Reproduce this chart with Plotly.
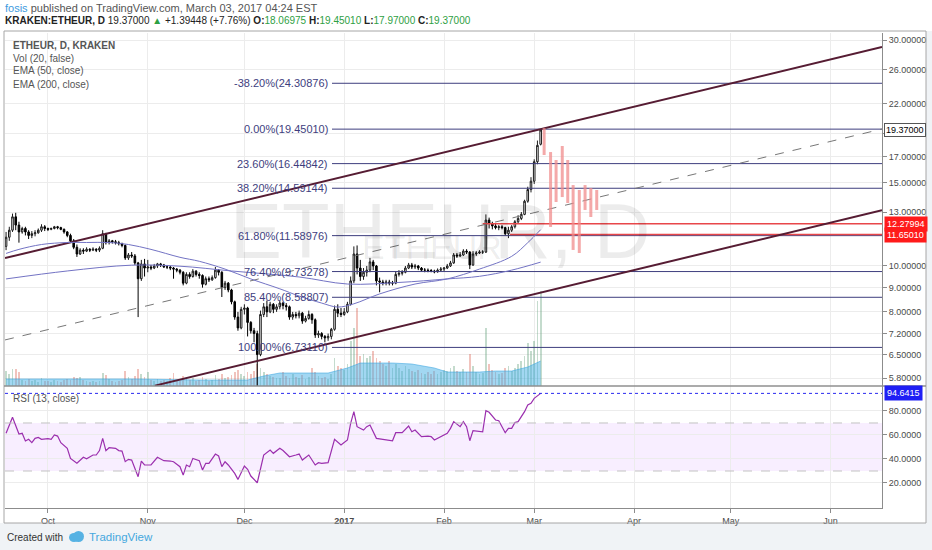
import math
import pandas as pd
import plotly.graph_objects as go

# ---------------- data (KRAKEN ETHEUR, daily) ----------------
start_day = "2016-09-18"

o_ = [11.0, 11.5, 11.9, 12.7, 12.2, 11.8, 12.0, 11.8, 11.6, 11.7,
      11.75, 11.9, 12.1, 12.0, 11.95, 12.0, 12.1, 12.05, 11.95, 11.8,
      11.6, 11.3, 10.95, 10.6, 10.8, 10.75, 10.85, 10.8, 10.85, 10.8,
      10.9, 11.7, 11.2, 11.3, 11.25, 11.2, 11.15, 11.05, 10.4, 10.55,
      10.5, 10.15, 9.4, 10.1, 9.9, 9.95, 9.9, 10.0, 10.1, 10.05,
      9.95, 9.95, 9.9, 9.85, 9.8, 9.7, 9.2, 9.6, 9.5, 9.75,
      9.6, 9.55, 9.15, 9.4, 9.35, 9.45, 9.8, 9.7, 9.0, 9.2,
      8.9, 8.4, 7.8, 7.4, 8.1, 8.15, 7.6, 7.3, 7.2, 6.5,
      7.9, 8.2, 8.0, 8.3, 8.1, 8.2, 8.35, 8.25, 8.2, 7.8,
      7.9, 7.85, 7.95, 7.65, 7.75, 7.9, 7.7, 7.15, 7.2, 7.1,
      7.05, 7.1, 7.35, 8.1, 7.95, 7.9, 8.0, 8.3, 9.3, 10.6,
      9.9, 9.5, 9.7, 9.8, 10.2, 10.0, 9.3, 9.25, 9.2, 9.25,
      9.2, 9.2, 9.6, 9.65, 9.7, 9.9, 10.05, 9.95, 10.0, 9.9,
      9.8, 9.8, 9.78, 9.76, 9.72, 9.8, 9.85, 9.9, 10.0, 10.15,
      10.55, 10.5, 10.55, 10.75, 10.7, 10.05, 10.6, 10.65, 10.7, 10.7,
      12.5, 12.3, 12.15, 12.05, 12.1, 12.05, 11.7, 11.9, 12.1, 12.4,
      12.6, 12.85, 13.7, 14.5, 15.1, 16.6, 18.06975]
h_ = [11.8, 12.1, 12.9, 12.95, 12.4, 12.1, 12.1, 11.9, 11.85, 11.9,
      12.0, 12.25, 12.2, 12.05, 12.05, 12.15, 12.15, 12.1, 12.0, 11.85,
      11.7, 11.4, 11.1, 10.9, 10.9, 10.95, 10.9, 10.95, 10.9, 11.0,
      11.9, 11.75, 11.4, 11.35, 11.35, 11.3, 11.2, 11.1, 10.65, 10.7,
      10.6, 10.2, 10.3, 10.35, 10.3, 10.05, 10.1, 10.15, 10.15, 10.1,
      10.05, 10.0, 9.95, 9.9, 9.85, 9.75, 9.7, 9.7, 9.85, 9.8,
      9.7, 9.6, 9.5, 9.5, 9.55, 9.95, 9.85, 9.75, 9.3, 9.25,
      8.95, 8.45, 8.0, 8.2, 8.3, 8.2, 7.65, 7.4, 7.3, 8.05,
      8.35, 8.45, 8.4, 8.35, 8.3, 8.45, 8.4, 8.35, 8.25, 8.0,
      8.0, 8.05, 8.0, 7.85, 8.05, 7.95, 7.75, 7.3, 7.25, 7.15,
      7.2, 7.4, 8.25, 8.3, 8.15, 8.15, 8.4, 9.5, 11.0, 11.05,
      10.3, 9.9, 10.0, 10.4, 10.3, 10.05, 9.45, 9.35, 9.35, 9.35,
      9.3, 9.75, 9.8, 9.8, 10.0, 10.15, 10.15, 10.1, 10.05, 9.95,
      9.9, 9.88, 9.85, 9.82, 9.88, 9.95, 9.95, 10.1, 10.25, 10.65,
      10.65, 10.7, 10.85, 10.85, 10.75, 10.75, 10.75, 10.8, 10.8, 12.85,
      12.65, 12.4, 12.3, 12.2, 12.2, 12.1, 12.1, 12.2, 12.5, 12.8,
      13.0, 13.8, 14.7, 15.4, 16.8, 18.4, 19.4501]
l_ = [10.8, 11.3, 11.8, 11.9, 11.2, 11.7, 11.6, 11.4, 11.45, 11.55,
      11.7, 11.8, 11.85, 11.85, 11.9, 11.95, 11.95, 11.9, 11.7, 11.5,
      11.2, 10.85, 10.45, 10.55, 10.6, 10.7, 10.7, 10.75, 10.7, 10.7,
      10.85, 11.1, 11.1, 11.15, 11.1, 11.05, 10.95, 10.3, 10.3, 10.4,
      10.05, 7.8, 9.3, 9.5, 9.7, 9.8, 9.85, 9.9, 9.95, 9.9,
      9.85, 9.8, 9.4, 9.7, 9.6, 9.1, 9.15, 9.4, 9.45, 9.5,
      9.4, 9.0, 9.1, 9.25, 9.3, 9.4, 9.55, 8.6, 8.9, 8.8,
      8.3, 7.7, 7.3, 7.35, 7.9, 7.1, 7.2, 6.9, 5.3, 6.45,
      7.8, 7.8, 7.95, 7.95, 8.0, 8.1, 8.1, 8.05, 7.7, 7.7,
      7.75, 7.75, 7.55, 7.6, 7.7, 7.55, 7.05, 7.05, 7.0, 6.9,
      6.95, 7.0, 7.3, 7.8, 7.8, 7.85, 7.95, 8.25, 9.2, 9.6,
      9.3, 9.35, 9.5, 9.7, 9.8, 9.1, 8.8, 9.1, 9.1, 9.1,
      9.1, 9.15, 9.5, 9.55, 9.65, 9.85, 9.85, 9.85, 9.8, 9.75,
      9.7, 9.7, 9.7, 9.65, 9.68, 9.75, 9.75, 9.85, 9.95, 10.1,
      10.4, 10.45, 10.5, 10.6, 9.85, 10.0, 10.5, 10.6, 10.6, 10.65,
      12.0, 11.95, 11.95, 11.9, 11.95, 11.6, 11.45, 11.8, 12.0, 12.3,
      12.5, 12.8, 13.6, 14.3, 14.9, 16.4, 17.97]
c_ = [11.5, 11.9, 12.7, 12.2, 11.8, 12.0, 11.8, 11.6, 11.7, 11.75,
      11.9, 12.1, 12.0, 11.95, 12.0, 12.1, 12.05, 11.95, 11.8, 11.6,
      11.3, 10.95, 10.6, 10.8, 10.75, 10.85, 10.8, 10.85, 10.8, 10.9,
      11.7, 11.2, 11.3, 11.25, 11.2, 11.15, 11.05, 10.4, 10.55, 10.5,
      10.15, 9.4, 10.1, 9.9, 9.95, 9.9, 10.0, 10.1, 10.05, 9.95,
      9.95, 9.9, 9.85, 9.8, 9.7, 9.2, 9.6, 9.5, 9.75, 9.6,
      9.55, 9.15, 9.4, 9.35, 9.45, 9.8, 9.7, 9.0, 9.2, 8.9,
      8.4, 7.8, 7.4, 8.1, 8.15, 7.6, 7.3, 7.2, 6.5, 7.9,
      8.2, 8.0, 8.3, 8.1, 8.2, 8.35, 8.25, 8.2, 7.8, 7.9,
      7.85, 7.95, 7.65, 7.75, 7.9, 7.7, 7.15, 7.2, 7.1, 7.05,
      7.1, 7.35, 8.1, 7.95, 7.9, 8.0, 8.3, 9.3, 10.6, 9.9,
      9.5, 9.7, 9.8, 10.2, 10.0, 9.3, 9.25, 9.2, 9.25, 9.2,
      9.2, 9.6, 9.65, 9.7, 9.9, 10.05, 9.95, 10.0, 9.9, 9.8,
      9.8, 9.78, 9.76, 9.72, 9.8, 9.85, 9.9, 10.0, 10.15, 10.55,
      10.5, 10.55, 10.75, 10.7, 10.05, 10.6, 10.65, 10.7, 10.7, 12.5,
      12.3, 12.15, 12.05, 12.1, 12.05, 11.7, 11.9, 12.1, 12.4, 12.6,
      12.85, 13.7, 14.5, 15.1, 16.6, 17.97552, 19.37]
vol = [15, 12, 17, 17, 14, 6, 5, 7, 5, 6,
       4, 8, 5, 5, 4, 6, 5, 4, 6, 7,
       6, 9, 8, 9, 6, 5, 4, 5, 4, 5,
       13, 11, 7, 5, 4, 5, 6, 15, 9, 7,
       10, 17, 12, 9, 14, 6, 5, 7, 5, 6,
       5, 8, 13, 6, 5, 10, 7, 6, 8, 5,
       6, 9, 7, 5, 6, 11, 7, 12, 8, 9,
       11, 14, 16, 12, 10, 14, 12, 15, 22, 18,
       14, 12, 10, 9, 8, 8, 14, 10, 8, 12,
       9, 8, 11, 7, 9, 18, 14, 10, 8, 9,
       7, 12, 28, 20, 18, 16, 22, 45, 58, 78,
       30, 32, 28, 30, 35, 28, 25, 22, 20, 25,
       18, 22, 18, 15, 20, 17, 15, 14, 16, 13,
       12, 14, 12, 15, 12, 14, 16, 15, 18, 20,
       15, 14, 17, 14, 32, 20, 14, 12, 13, 58,
       22, 16, 14, 12, 13, 18, 20, 15, 18, 22,
       25, 30, 43, 35, 45, 85, 95]

# volume moving average (20), sampled
vma_day = [0, 20, 40, 60, 75, 80, 85, 100, 106, 110, 120, 126, 133, 137, 147, 152, 157, 162, 166]
vma_val = [7, 7, 7, 6, 6, 10, 13, 13, 18, 23, 23, 22, 18, 14, 14, 15, 15, 19, 25]

# EMA lines, sampled
ema50_day = [0, 4, 11, 19, 25, 32, 38, 45, 54, 60, 68, 76, 85, 91, 98, 103, 108, 116, 127, 137, 147, 157, 162, 166]
ema50_val = [10.63, 10.84, 11.10, 11.21, 11.21, 11.21, 11.10, 10.84, 10.43, 10.23, 9.85, 9.39,
             8.95, 8.64, 8.35, 8.19, 8.32, 8.73, 9.16, 9.39, 9.85, 10.48, 11.2, 11.93]
ema200_day = [0, 19, 39, 54, 70, 91, 106, 122, 137, 147, 157, 166]
ema200_val = [9.39, 9.76, 10.04, 9.99, 9.76, 9.48, 9.16, 9.23, 9.39, 9.51, 9.80, 10.19]

# RSI (13, close), sampled
rsi_day = [0, 2, 4, 5, 6, 7, 8, 9, 10, 11, 13, 14, 15, 16, 17, 19, 20, 22, 24, 25,
           27, 28, 29, 30, 31, 32, 34, 35, 36, 37, 38, 39, 41, 42, 43, 45, 47, 49, 51, 52,
           54, 55, 56, 57, 58, 60, 61, 62, 63, 65, 66, 67, 68, 69, 71, 72, 74, 75, 76, 78,
           80, 81, 82, 83, 85, 86, 88, 90, 91, 92, 94, 96, 97, 98, 100, 102, 104, 106, 107, 108,
           109, 111, 112, 113, 115, 117, 120, 121, 123, 125, 126, 127, 129, 131, 132, 133, 135, 137, 138, 139,
           141, 142, 143, 144, 145, 148, 149, 150, 152, 153, 155, 156, 157, 158, 159, 161, 162, 163, 164, 166]
rsi_val = [61.4, 74.7, 60.8, 61.4, 55.0, 56.4, 53.6, 57.2, 58.0, 56.4, 56.9, 56.4, 60.0, 59.1, 53.6, 48.9, 40.5, 36.4, 41.4, 40.2,
           43.3, 43.3, 47.0, 57.2, 47.0, 49.4, 48.9, 47.0, 46.6, 37.8, 39.7, 39.1, 25.2, 38.3, 35.0, 35.0, 41.4, 38.6, 38.3, 37.7,
           33.6, 26.6, 35.0, 33.6, 40.5, 38.6, 30.8, 36.4, 36.4, 44.1, 42.5, 33.6, 37.7, 35.0, 28.0, 23.0, 34.1, 31.4, 25.8, 20.2,
           43.3, 45.2, 47.5, 44.7, 48.9, 47.0, 41.9, 43.3, 44.1, 39.1, 43.3, 35.0, 36.9, 36.4, 36.9, 56.4, 51.6, 55.8, 69.7, 79.4,
           66.9, 64.1, 66.9, 68.3, 57.2, 56.4, 55.2, 61.9, 61.9, 67.5, 62.7, 64.1, 58.6, 59.1, 58.6, 55.8, 58.6, 61.4, 65.5, 71.1,
           66.9, 71.1, 66.9, 55.2, 63.6, 62.7, 80.2, 78.9, 72.5, 71.9, 61.9, 65.5, 65.5, 70.3, 71.1, 79.4, 85.0, 86.4, 90.5, 94.6415]

# Fibonacci retracement
fib_pct = [-38.2, 0.0, 23.6, 38.2, 61.8, 76.4, 85.4, 100.0]
fib_val = [24.30876, 19.45010, 16.44842, 14.59144, 11.58976, 9.73278, 8.58807, 6.73110]
fib_start = "2016-12-28 05:00"

# trend channel anchors
up_x, up_y = ["2016-09-17 16:00", "2017-06-17"], [10.39, 28.99]
lo_x, lo_y = ["2016-11-03 05:00", "2017-06-17"], [5.59, 13.11]
mid_x, mid_y = ["2016-09-17 16:00", "2017-06-17"], [6.98, 19.46]

# red horizontal levels
red_val = [12.27994, 11.65010]
red_start = ["2017-02-13", "2017-02-21 12:00"]

# projected bars pattern
proj_x = ["2017-03-04 02:00", "2017-03-06 02:00", "2017-03-07 19:00", "2017-03-09 17:00", "2017-03-11 10:00",
          "2017-03-13 02:00", "2017-03-15 00:00", "2017-03-16 19:00", "2017-03-18 14:00", "2017-03-20 10:00"]
proj_hi = [19.55, 17.40, 16.74, 17.92, 16.74, 14.82, 14.47, 14.82, 14.61, 14.47]
proj_lo = [17.15, 12.09, 13.65, 13.98, 13.58, 10.81, 10.65, 13.13, 12.69, 13.13]

price_ticks = [5.8, 6.5, 7.2, 8, 9, 10, 13, 15, 17, 19, 22, 26, 30]
rsi_ticks = [20, 40, 60, 80]
month_ticks = ["2016-10-01", "2016-11-01", "2016-12-01", "2017-01-01", "2017-02-01",
               "2017-03-01", "2017-04-01", "2017-05-01", "2017-06-01"]
month_text = ["Oct", "Nov", "Dec", "<b>2017</b>", "Feb", "Mar", "Apr", "May", "Jun"]

view = ["2016-09-17 16:00", "2017-06-17"]
line_end = "2017-06-30"

# ---------------- helpers ----------------
start = pd.Timestamp(start_day)
dates = pd.date_range(start, periods=len(c_), freq="D")
def days(lst):
    return [start + pd.Timedelta(days=d) for d in lst]

def px(x):  # pixel -> paper x
    return (x - 5) / 877.0

def py(y):  # pixel -> paper y
    return (508 - y) / 475.0

split = py(386)
FONT = "Liberation Sans, Arial, sans-serif"
GRID = "#ececec"
AXC = "#8c8c8c"

fig = go.Figure()

# volume (base axis, behind price)
vcol = ["rgba(107,165,131,0.4)" if c >= o else "rgba(215,84,66,0.35)" for o, c in zip(o_, c_)]
fig.add_trace(go.Bar(x=dates, y=vol, marker=dict(color=vcol, line=dict(width=0)),
                     width=0.55 * 86400000, xaxis="x", yaxis="y"))
fig.add_trace(go.Scatter(x=days(vma_day), y=vma_val, mode="lines", fill="tozeroy",
                         line=dict(color="rgba(60,165,225,0.7)", width=0.8),
                         fillcolor="rgba(70,175,230,0.5)", xaxis="x", yaxis="y"))

# fib lines
fx, fy = [], []
for v in fib_val:
    fx += [fib_start, line_end, None]
    fy += [v, v, None]
fig.add_trace(go.Scatter(x=fx, y=fy, mode="lines", line=dict(color="#3e3e7e", width=1),
                         xaxis="x", yaxis="y3"))

# red levels
rx, ry = [], []
for s, v in zip(red_start, red_val):
    rx += [s, line_end, None]
    ry += [v, v, None]
fig.add_trace(go.Scatter(x=rx, y=ry, mode="lines", line=dict(color="#e8474a", width=1.6),
                         xaxis="x", yaxis="y3"))

# channel
fig.add_trace(go.Scatter(x=mid_x, y=mid_y, mode="lines", line=dict(color="#777777", width=1, dash="dash"),
                         xaxis="x", yaxis="y3"))
for lx, ly in [(up_x, up_y), (lo_x, lo_y)]:
    fig.add_trace(go.Scatter(x=lx, y=ly, mode="lines", line=dict(color="#561c33", width=2),
                             xaxis="x", yaxis="y3"))

# EMAs
fig.add_trace(go.Scatter(x=days(ema50_day), y=ema50_val, mode="lines", line=dict(color="#7373c4", width=1, shape="spline"),
                         xaxis="x", yaxis="y3"))
fig.add_trace(go.Scatter(x=days(ema200_day), y=ema200_val, mode="lines", line=dict(color="#7373c4", width=1, shape="spline"),
                         xaxis="x", yaxis="y3"))

# projected bars
bx, by = [], []
for d, hi, lo in zip(proj_x, proj_hi, proj_lo):
    bx += [d, d, None]
    by += [lo, hi, None]
fig.add_trace(go.Scatter(x=bx, y=by, mode="lines", line=dict(color="rgba(240,140,140,0.75)", width=3),
                         xaxis="x", yaxis="y3"))

# candles
fig.add_trace(go.Candlestick(x=dates, open=o_, high=h_, low=l_, close=c_, whiskerwidth=0,
                             increasing=dict(line=dict(color="#1a1a1a", width=1), fillcolor="#ffffff"),
                             decreasing=dict(line=dict(color="#000000", width=1), fillcolor="#000000"),
                             xaxis="x", yaxis="y3"))

# RSI
fig.add_trace(go.Scatter(x=days(rsi_day), y=rsi_val, mode="lines", line=dict(color="#9b2fae", width=1.2),
                         xaxis="x2", yaxis="y2"))

tick_txt = [f"{t:.5f}" for t in price_ticks]

fig.update_layout(
    width=932, height=550,
    margin=dict(l=5, r=50, t=33, b=42),
    paper_bgcolor="white", plot_bgcolor="white",
    showlegend=False,
    font=dict(family=FONT, size=9, color="#4a4a4a"),
    bargap=0,
    xaxis=dict(domain=[0, 1], anchor="y", range=view, rangeslider=dict(visible=False),
               tickvals=month_ticks, showticklabels=False, showgrid=True, gridcolor=GRID,
               zeroline=False, ticks=""),
    yaxis=dict(domain=[split, 1], range=[0, max(vol) * 3.72], visible=False, fixedrange=True),
    yaxis3=dict(overlaying="y", anchor="x", side="right", type="log",
                range=[0.7466, 1.4919], tickvals=price_ticks, ticktext=tick_txt,
                showgrid=True, gridcolor=GRID, zeroline=False,
                showline=True, linecolor=AXC, linewidth=1, ticks="outside", ticklen=4, tickcolor=AXC,
                tickfont=dict(size=9, color="#4a4a4a")),
    xaxis2=dict(domain=[0, 1], anchor="y2", matches="x", range=view, tickvals=month_ticks, ticktext=month_text,
                showgrid=True, gridcolor=GRID, zeroline=False, showline=True, linecolor=AXC,
                ticks="outside", ticklen=4, tickcolor=AXC, tickfont=dict(size=9, color="#4a4a4a")),
    yaxis2=dict(domain=[0, split], anchor="x2", side="right", range=[-0.83, 100.8],
                tickvals=rsi_ticks, ticktext=[f"{t:.4f}" for t in rsi_ticks],
                showgrid=True, gridcolor=GRID, zeroline=False, showline=True, linecolor=AXC,
                ticks="outside", ticklen=4, tickcolor=AXC, tickfont=dict(size=9, color="#4a4a4a")),
)

shapes = [
    # page background outside the chart frame
    dict(type="rect", xref="paper", yref="paper", x0=px(0), x1=px(932), y0=py(550), y1=py(523),
         fillcolor="#f0f3f6", line=dict(width=0), layer="below"),
    dict(type="rect", xref="paper", yref="paper", x0=px(926), x1=px(932), y0=py(550), y1=py(31),
         fillcolor="#f0f3f6", line=dict(width=0), layer="below"),
    # chart frame
    dict(type="rect", xref="paper", yref="paper", x0=px(4), x1=px(926), y0=py(523), y1=py(31),
         line=dict(color="#a6a6a6", width=1), fillcolor="rgba(0,0,0,0)", layer="above"),
    # pane separator
    dict(type="line", xref="paper", yref="paper", x0=px(4), x1=px(926), y0=split, y1=split,
         line=dict(color="#8f8f8f", width=1.5)),
    # RSI band
    dict(type="rect", xref="paper", yref="y2", x0=0, x1=1, y0=30, y1=70,
         fillcolor="rgba(153,21,255,0.07)", line=dict(width=0), layer="below"),
    dict(type="line", xref="paper", yref="y2", x0=0, x1=1, y0=70, y1=70,
         line=dict(color="#c2c2c2", width=1, dash="dash")),
    dict(type="line", xref="paper", yref="y2", x0=0, x1=1, y0=30, y1=30,
         line=dict(color="#c2c2c2", width=1, dash="dash")),
    dict(type="line", xref="paper", yref="y2", x0=0, x1=1, y0=rsi_val[-1], y1=rsi_val[-1],
         line=dict(color="#2a2af0", width=1, dash="dot")),
    # TradingView logo
    dict(type="circle", xref="paper", yref="paper", x0=px(69), x1=px(79), y0=py(542), y1=py(533),
         fillcolor="#56b2e3", line=dict(width=0)),
    dict(type="circle", xref="paper", yref="paper", x0=px(73), x1=px(84), y0=py(542), y1=py(531),
         fillcolor="#56b2e3", line=dict(width=0)),
]
fig.update_layout(shapes=shapes)

ann = []
# watermark
ann.append(dict(xref="paper", yref="paper", x=px(440), y=py(185), text="ETHEUR, D", showarrow=False,
                font=dict(size=78, color="rgba(0,0,0,0.075)", family=FONT)))
ann.append(dict(xref="paper", yref="paper", x=px(432), y=py(247), text="ETHEUR", showarrow=False,
                font=dict(size=34, color="rgba(0,0,0,0.075)", family=FONT)))

# header
ann.append(dict(xref="paper", yref="paper", x=px(3), y=py(8), xanchor="left", yanchor="middle", showarrow=False,
                text='<span style="color:#3d9be0">fosis</span> published on TradingView.com, March 03, 2017 04:24 EST',
                font=dict(size=11, color="#555555", family=FONT)))
g = "#2ea043"
ann.append(dict(xref="paper", yref="paper", x=px(3), y=py(20), xanchor="left", yanchor="middle", showarrow=False,
                text=(f'<b>KRAKEN:ETHEUR, D</b> 19.37000 <span style="color:{g}">▲</span> +1.39448 (+7.76%) '
                      f'<b>O:</b><span style="color:{g}">18.06975</span> <b>H:</b><span style="color:{g}">19.45010</span> '
                      f'<b>L:</b><span style="color:{g}">17.97000</span> <b>C:</b><span style="color:{g}">19.37000</span>'),
                font=dict(size=10, color="#222222", family=FONT)))

# pane legends
for i, t in enumerate(["<b>ETHEUR, D, KRAKEN</b>", "Vol (20, false)", "EMA (50, close)", "EMA (200, close)"]):
    ann.append(dict(xref="paper", yref="paper", x=px(11), y=py(45 + 13 * i), xanchor="left", yanchor="middle",
                    showarrow=False, text=t, font=dict(size=10, color="#555555", family=FONT)))
ann.append(dict(xref="paper", yref="paper", x=px(11), y=py(398), xanchor="left", yanchor="middle",
                showarrow=False, text="RSI (13, close)", font=dict(size=10, color="#555555", family=FONT)))

# fib labels
for p, v in zip(fib_pct, fib_val):
    ann.append(dict(xref="x", yref="y3", x=fib_start, y=math.log10(v), xanchor="right", yanchor="middle",
                    xshift=-2, showarrow=False, text=f"{p:.2f}%({v:.5f})",
                    font=dict(size=11, color="#3e3e7e", family=FONT)))

# axis value labels
ann.append(dict(xref="paper", yref="y3", x=px(884), y=math.log10(c_[-1]), xanchor="left", yanchor="middle",
                showarrow=False, text=f"{c_[-1]:.5f}", bgcolor="white", bordercolor="#555555", borderwidth=1,
                borderpad=1, font=dict(size=9, color="#000000", family=FONT)))
for v in red_val:
    ann.append(dict(xref="paper", yref="y3", x=px(884), y=math.log10(v), xanchor="left", yanchor="middle",
                    showarrow=False, text=f"{v:.5f}", bgcolor="#ff1a1a", borderpad=2,
                    font=dict(size=9, color="white", family=FONT)))
ann.append(dict(xref="paper", yref="y2", x=px(884), y=rsi_val[-1], xanchor="left", yanchor="middle",
                showarrow=False, text=f"{rsi_val[-1]:.4f}", bgcolor="#1f1ff5", borderpad=2,
                font=dict(size=9, color="white", family=FONT)))

# footer
ann.append(dict(xref="paper", yref="paper", x=px(5), y=py(537), xanchor="left", yanchor="middle", showarrow=False,
                text="Created with", font=dict(size=10, color="#333333", family=FONT)))
ann.append(dict(xref="paper", yref="paper", x=px(87), y=py(537), xanchor="left", yanchor="middle", showarrow=False,
                text="TradingView", font=dict(size=11.5, color="#45a8de", family=FONT)))

fig.update_layout(annotations=ann)

# page body margin would push the 932x550 figure off the window
fig.write_html("out.html", config={"displayModeBar": False},
               post_script="document.body.style.margin='0';document.body.style.overflow='hidden';")
